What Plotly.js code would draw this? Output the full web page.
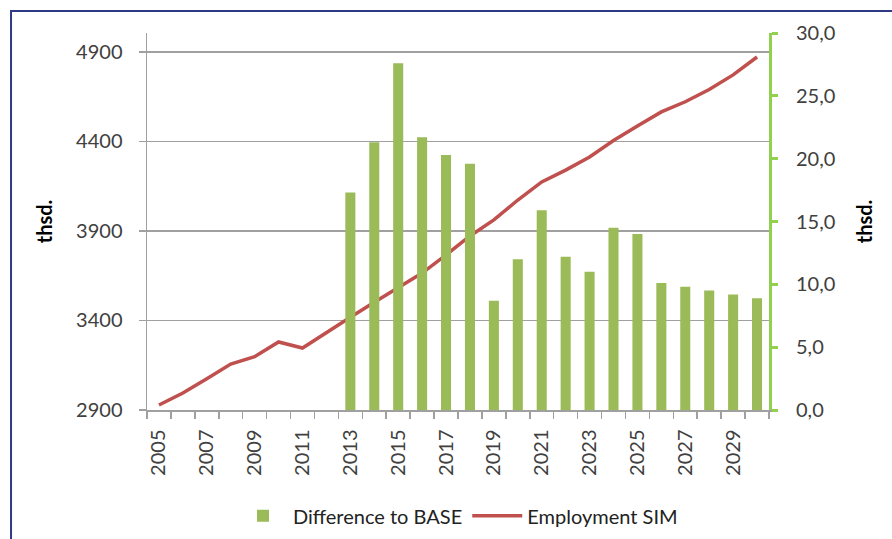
<!DOCTYPE html>
<html>
<head>
<meta charset="utf-8">
<script src="https://cdn.plot.ly/plotly-3.0.1.min.js"></script>
<style>
html,body{margin:0;padding:0;background:#fff;}
#chart{width:892px;height:539px;}
</style>
</head>
<body>
<div id="chart"></div>
<script>
// Data
var years = [2005,2006,2007,2008,2009,2010,2011,2012,2013,2014,2015,2016,2017,2018,2019,2020,2021,2022,2023,2024,2025,2026,2027,2028,2029,2030];
var employmentSim = [2928,2995,3075,3157,3198,3280,3246,3334,3418,3502,3586,3665,3766,3872,3962,4073,4174,4240,4313,4405,4487,4565,4622,4690,4772,4872];
var diffYears = [2013,2014,2015,2016,2017,2018,2019,2020,2021,2022,2023,2024,2025,2026,2027,2028,2029,2030];
var diffToBase = [17.3,21.3,27.6,21.7,20.3,19.6,8.7,12.0,15.9,12.2,11.0,14.5,14.0,10.1,9.8,9.5,9.2,8.9];
var leftTitle = "thsd.";
var rightTitle = "thsd.";
var barName = "Difference to BASE";
var lineName = "Employment SIM";

var FONT = "Lato, 'Open Sans', sans-serif";
var GRAY = "#404040";
var FS = 20;

var traces = [
  {
    type: "bar",
    name: barName,
    x: diffYears,
    y: diffToBase,
    yaxis: "y2",
    width: 0.42,
    marker: {color: "#9BBB59"},
    hoverinfo: "x+y"
  },
  {
    type: "scatter",
    mode: "lines",
    name: lineName,
    x: years,
    y: employmentSim,
    yaxis: "y",
    line: {color: "#C0504D", width: 3.5},
    hoverinfo: "x+y"
  }
];

var layout = {
  width: 892,
  height: 539,
  margin: {l: 147, r: 123, t: 33, b: 129, pad: 0, autoexpand: false},
  paper_bgcolor: "#ffffff",
  plot_bgcolor: "#ffffff",
  separators: ",.",
  font: {family: FONT, size: FS, color: GRAY},
  showlegend: true,
  legend: {
    orientation: "h",
    xref: "paper", yref: "container",
    x: 0.5, xanchor: "center",
    y: 0.043, yanchor: "middle",
    font: {family: FONT, size: FS, color: "#222"},
    traceorder: "normal",
    itemwidth: 50
  },
  xaxis: {
    type: "linear",
    automargin: false,
    range: [2004.5, 2030.5],
    tick0: 2005,
    dtick: 2,
    tickformat: "d",
    tickangle: -90,
    ticks: "",
    ticklabelstandoff: 10,
    showgrid: false,
    zeroline: false,
    showline: true,
    linecolor: "#A0A0A0",
    linewidth: 1.5,
    tickfont: {family: FONT, size: FS, color: GRAY},
    minor: {
      tick0: 2004.5,
      dtick: 1,
      ticks: "outside",
      ticklen: 7,
      tickwidth: 1.5,
      tickcolor: "#A0A0A0",
      showgrid: false
    },
    fixedrange: true
  },
  yaxis: {
    automargin: false,
    range: [2900, 5006],
    tick0: 2900,
    dtick: 500,
    tickformat: "d",
    ticks: "outside",
    ticklen: 7,
    tickwidth: 1.5,
    tickcolor: "#A0A0A0",
    ticklabelstandoff: 12,
    showline: true,
    linecolor: "#A0A0A0",
    linewidth: 1.5,
    showgrid: true,
    gridcolor: "#A0A0A0",
    gridwidth: 1.5,
    zeroline: false,
    tickfont: {family: FONT, size: FS, color: GRAY},
    title: {text: leftTitle, font: {family: FONT, size: FS, color: "#000", weight: "bold"}, standoff: 18},
    fixedrange: true
  },
  yaxis2: {
    automargin: false,
    overlaying: "y",
    side: "right",
    range: [0, 30],
    dtick: 5,
    tickformat: ".1f",
    ticks: "outside",
    ticklen: 6,
    tickwidth: 3,
    tickcolor: "#92D050",
    ticklabelstandoff: 14,
    showline: true,
    linecolor: "#92D050",
    linewidth: 3,
    showgrid: false,
    zeroline: false,
    tickfont: {family: FONT, size: FS, color: GRAY},
    title: {text: rightTitle, font: {family: FONT, size: FS, color: "#000", weight: "bold"}, standoff: 24},
    fixedrange: true
  },
  shapes: [
    {
      type: "path",
      xref: "paper", yref: "paper",
      path: "M -0.2186,-0.4 L -0.2186,1.0584 L 1.3,1.0584",
      line: {color: "#2E3A86", width: 2}
    }
  ]
};

Plotly.newPlot("chart", traces, layout, {displayModeBar: false, staticPlot: true});
</script>
</body>
</html>
